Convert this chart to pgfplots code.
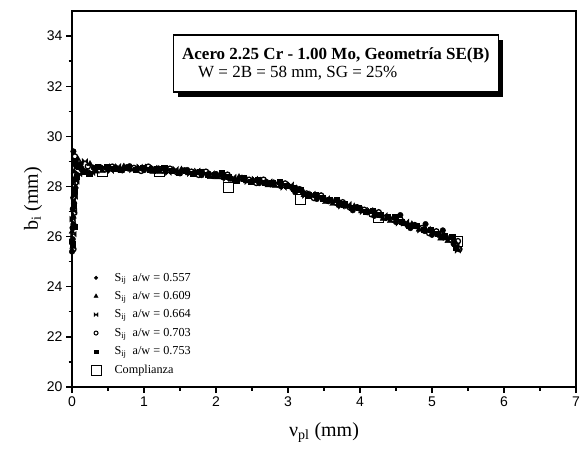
\documentclass[border=0pt]{standalone}
\usepackage{fontspec}
\setmainfont{Liberation Serif}
\newfontfamily\arial{Liberation Sans}
\usepackage{pgfplots}
\usepackage{pgfplotstable}
\pgfplotsset{compat=1.18}
\usetikzlibrary{shadows}

\pgfdeclareplotmark{bowtie}{%
  \pgfpathmoveto{\pgfqpoint{-\pgfplotmarksize}{\pgfplotmarksize}}%
  \pgfpathlineto{\pgfqpoint{\pgfplotmarksize}{-\pgfplotmarksize}}%
  \pgfpathlineto{\pgfqpoint{\pgfplotmarksize}{\pgfplotmarksize}}%
  \pgfpathlineto{\pgfqpoint{-\pgfplotmarksize}{-\pgfplotmarksize}}%
  \pgfpathclose\pgfusepathqfillstroke}

\pgfplotstableread{
x y
0.00 25.40
0.01 25.90
0.02 26.50
0.01 27.10
0.03 27.70
0.04 28.30
0.06 28.80
0.02 29.40
0.12 28.90
0.20 28.60
0.30 28.75
0.40 28.76
0.50 28.68
0.60 28.75
0.70 28.64
0.80 28.81
0.90 28.70
1.00 28.65
1.10 28.72
1.20 28.72
1.30 28.60
1.40 28.64
1.50 28.52
1.60 28.66
1.70 28.54
1.80 28.45
1.90 28.51
2.00 28.50
2.10 28.36
2.20 28.32
2.30 28.22
2.40 28.34
2.50 28.22
2.60 28.13
2.70 28.18
2.80 28.16
2.90 28.01
3.00 28.02
3.10 27.77
3.20 27.79
3.30 27.62
3.40 27.50
3.50 27.51
3.60 27.44
3.70 27.26
3.80 27.24
3.90 27.05
4.00 27.14
4.10 26.97
4.20 26.83
4.30 26.84
4.40 26.76
4.50 26.58
4.56 26.86
4.60 26.54
4.70 26.34
4.80 26.41
4.91 26.50
4.90 26.22
5.00 26.07
5.10 26.06
5.15 26.25
5.20 25.96
5.30 25.71
}\serA

\pgfplotstableread{
x y
0.01 25.60
0.00 26.20
0.02 26.80
0.03 27.40
0.05 28.00
0.03 28.60
0.08 29.10
0.15 28.70
0.25 28.90
0.34 28.60
0.42 28.63
0.52 28.77
0.62 28.71
0.72 28.80
0.82 28.68
0.92 28.71
1.02 28.76
1.12 28.59
1.22 28.59
1.32 28.69
1.42 28.60
1.52 28.68
1.62 28.53
1.72 28.55
1.82 28.56
1.92 28.38
2.02 28.37
2.12 28.45
2.22 28.28
2.32 28.38
2.42 28.21
2.52 28.23
2.62 28.24
2.72 28.05
2.82 28.03
2.92 28.10
3.02 27.98
3.12 27.93
3.22 27.66
3.32 27.63
3.42 27.61
3.52 27.38
3.62 27.31
3.72 27.35
3.82 27.20
3.92 27.21
4.02 27.01
4.12 26.98
4.22 26.94
4.32 26.71
4.42 26.63
4.52 26.67
4.62 26.50
4.72 26.50
4.82 26.28
4.92 26.23
5.02 26.18
5.12 25.93
5.22 25.83
5.32 25.80
}\serB

\pgfplotstableread{
x y
0.00 25.80
0.02 26.10
0.01 26.70
0.03 27.00
0.04 27.60
0.06 28.20
0.05 28.90
0.10 28.50
0.18 29.00
0.28 28.55
0.44 28.73
0.54 28.63
0.64 28.80
0.74 28.71
0.84 28.66
0.94 28.78
1.04 28.67
1.14 28.73
1.24 28.69
1.34 28.55
1.44 28.69
1.54 28.59
1.64 28.51
1.74 28.62
1.84 28.47
1.94 28.52
2.04 28.47
2.14 28.31
2.24 28.37
2.34 28.29
2.44 28.19
2.54 28.30
2.64 28.15
2.74 28.19
2.84 28.13
2.94 27.96
3.04 28.07
3.14 27.84
3.24 27.64
3.34 27.70
3.44 27.52
3.54 27.52
3.64 27.41
3.74 27.21
3.84 27.29
3.94 27.12
4.04 26.99
4.14 27.05
4.24 26.85
4.34 26.85
4.44 26.73
4.54 26.53
4.64 26.59
4.74 26.41
4.84 26.26
4.94 26.30
5.04 26.09
5.14 26.07
5.24 25.93
5.34 25.66
5.36 25.45
}\serC

\pgfplotstableread{
x y
0.02 25.50
0.01 26.35
0.03 26.95
0.02 27.55
0.05 28.15
0.07 28.45
0.04 29.20
0.13 28.70
0.22 28.80
0.32 28.70
0.46 28.68
0.56 28.79
0.66 28.67
0.76 28.76
0.86 28.74
0.96 28.62
1.06 28.79
1.16 28.63
1.26 28.64
1.36 28.71
1.46 28.56
1.56 28.64
1.66 28.59
1.76 28.46
1.86 28.59
1.96 28.42
2.06 28.42
2.16 28.47
2.26 28.24
2.36 28.34
2.46 28.27
2.56 28.14
2.66 28.27
2.76 28.09
2.86 28.08
2.96 28.12
3.06 27.94
3.16 27.89
3.26 27.72
3.36 27.54
3.46 27.64
3.56 27.42
3.66 27.36
3.76 27.37
3.86 27.16
3.96 27.17
4.06 27.07
4.16 26.89
4.26 26.97
4.36 26.75
4.46 26.68
4.56 26.69
4.66 26.46
4.76 26.46
4.86 26.34
4.96 26.14
5.06 26.21
5.16 25.97
5.26 25.88
5.36 25.82
5.38 25.50
}\serD

\pgfplotstableread{
x y
0.01 25.70
0.03 26.40
0.02 27.25
0.04 27.85
0.06 28.40
0.03 29.00
0.09 28.80
0.16 28.60
0.24 28.50
0.36 28.80
0.48 28.79
0.58 28.71
0.68 28.66
0.78 28.75
0.88 28.67
0.98 28.76
1.08 28.68
1.18 28.69
1.28 28.75
1.38 28.63
1.48 28.55
1.58 28.63
1.68 28.52
1.78 28.60
1.88 28.48
1.98 28.48
2.08 28.53
2.18 28.39
2.28 28.23
2.38 28.33
2.48 28.20
2.58 28.28
2.68 28.16
2.78 28.15
2.88 28.19
2.98 28.04
3.08 27.93
3.18 27.88
3.28 27.65
3.38 27.68
3.48 27.53
3.58 27.48
3.68 27.47
3.78 27.29
3.88 27.15
3.98 27.16
4.08 27.00
4.18 27.03
4.28 26.86
4.38 26.81
4.48 26.79
4.58 26.61
4.68 26.45
4.78 26.45
4.88 26.27
4.98 26.28
5.08 26.10
5.18 26.03
5.28 25.99
5.33 25.55
}\serE

\pgfplotstableread{
x y
0.42 28.60
1.22 28.60
2.17 27.95
3.17 27.50
4.26 26.78
5.36 25.82
}\serF

\begin{document}
\begin{tikzpicture}
\begin{axis}[
  name=ax,
  scale only axis,
  width=504pt, height=376pt,
  xmin=0, xmax=7, ymin=20, ymax=35,
  xtick={0,1,...,7}, ytick={20,22,...,34},
  minor x tick num=1, minor y tick num=1,
  tick align=outside,
  xtick pos=left, ytick pos=left,
  major tick length=6pt, minor tick length=3.5pt,
  axis line style={line width=1.3pt},
  every tick/.style={black, line width=1.3pt},
  tick label style={font=\arial\fontsize{14}{14}\selectfont},
  /pgf/number format/assume math mode=true,
  xlabel={ν\textsubscript{pl} (mm)},
  ylabel={b\textsubscript{i} (mm)},
  label style={font=\fontsize{20}{20}\selectfont},
  xlabel style={yshift=-9pt},
  ylabel style={yshift=-2pt},
  legend cell align=left,
  legend style={draw=none, fill=none, at={(axis cs:0.22,20.35)}, anchor=south west,
    font=\fontsize{12.2}{12.2}\selectfont, row sep=6.8pt,
    nodes={inner sep=1pt},
    /tikz/every odd column/.style={column sep=12.5pt}},
]
\addplot[only marks, mark=*, mark size=2.8pt, black, legend image post style={mark size=1.8pt}] table {\serA};
\addlegendentry{S\textsubscript{ij}\ \ a/w = 0.557}
\addplot[only marks, mark=triangle*, mark size=3.4pt, black, legend image post style={mark size=2.4pt}] table {\serB};
\addlegendentry{S\textsubscript{ij}\ \ a/w = 0.609}
\addplot[only marks, mark=bowtie, mark size=2.8pt, black, legend image post style={mark size=2pt}] table {\serC};
\addlegendentry{S\textsubscript{ij}\ \ a/w = 0.664}
\addplot[only marks, mark=o, mark size=2.6pt, black, line width=1.3pt, legend image post style={mark size=2pt, line width=1pt}] table {\serD};
\addlegendentry{S\textsubscript{ij}\ \ a/w = 0.703}
\addplot[only marks, mark=square*, mark size=2.6pt, black, legend image post style={mark size=1.7pt}] table {\serE};
\addlegendentry{S\textsubscript{ij}\ \ a/w = 0.753}
\addplot[only marks, mark=square, mark size=5pt, black, line width=1pt, mark options={fill=white}] table {\serF};
\addlegendentry{Complianza}

\node[draw, line width=1.3pt, fill=white, minimum width=325pt, minimum height=57pt,
  drop shadow={shadow xshift=5pt, shadow yshift=-5pt, fill=black, opacity=1},
  align=left, font=\fontsize{17}{18}\selectfont]
  at (axis cs:3.665,32.9)
  {\textbf{Acero 2.25 Cr - 1.00 Mo, Geometría SE(B)}\\\hspace*{16pt}W = 2B = 58 mm, SG = 25\%};
\end{axis}
\pgfresetboundingbox
\path ([xshift=-72pt,yshift=-66pt]ax.south west) rectangle ([xshift=7pt,yshift=11pt]ax.north east);
\end{tikzpicture}
\end{document}
